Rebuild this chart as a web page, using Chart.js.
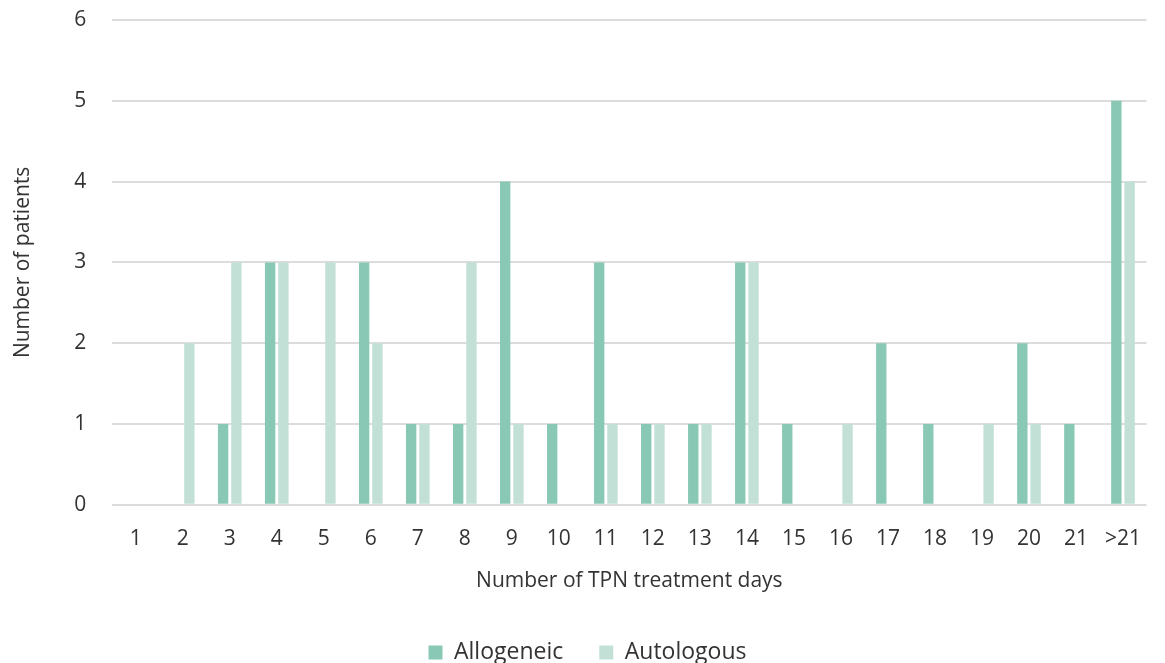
<!DOCTYPE html>
<html>
<head>
<meta charset="utf-8">
<script src="https://cdn.jsdelivr.net/npm/chart.js@4"></script>
<style>
  html, body { margin: 0; padding: 0; background: #fff; }
  #wrap { width: 1165px; height: 663px; }
</style>
</head>
<body>
<div id="wrap"><canvas id="c" width="1165" height="663"></canvas></div>
<script>
const categories = ['1', '2', '3', '4', '5', '6', '7', '8', '9', '10', '11', '12', '13', '14', '15', '16', '17', '18', '19', '20', '21', '>21'];
const allogeneic = [0, 0, 1, 3, 0, 3, 1, 1, 4, 1, 3, 1, 1, 3, 1, 0, 2, 1, 0, 2, 1, 5];
const autologous = [0, 2, 3, 3, 3, 2, 1, 3, 1, 0, 1, 1, 1, 3, 0, 1, 0, 0, 1, 1, 0, 4];
const yTicks = [0, 1, 2, 3, 4, 5, 6];

const font = "'Open Sans', 'Noto Sans', sans-serif";
const textColor = '#333333';

new Chart(document.getElementById('c'), {
  type: 'bar',
  data: {
    labels: categories,
    datasets: [
      { label: 'Allogeneic', data: allogeneic, backgroundColor: '#88c8b5' },
      { label: 'Autologous', data: autologous, backgroundColor: '#c2e0d6' },
    ],
  },
  options: {
    responsive: false,
    animation: false,
    categoryPercentage: 0.565,
    barPercentage: 0.78,
    layout: { padding: { top: 20, right: 0, left: 10, bottom: -11 } },
    plugins: {
      legend: {
        position: 'bottom',
        labels: {
          font: { family: font, size: 23 },
          color: textColor,
          boxWidth: 14,
          boxHeight: 14,
          padding: 36,
        },
      },
      tooltip: { enabled: false },
    },
    scales: {
      x: {
        grid: { display: false, drawTicks: false },
        border: { display: false },
        ticks: { font: { family: font, size: 21, lineHeight: 1.0 }, color: textColor, padding: 24, maxRotation: 0 },
        title: {
          display: true,
          text: 'Number of TPN treatment days',
          font: { family: font, size: 21 },
          color: textColor,
          padding: { top: 0, bottom: 11 },
        },
        // pull the tick labels a little closer to the axis title
        afterFit: axis => { axis.height -= 5; },
      },
      y: {
        min: 0,
        max: 6,
        afterBuildTicks: axis => { axis.ticks = yTicks.map(v => ({ value: v })); },
        // invisible tick marks give the label gap without adding top padding
        grid: { color: '#dcdcdc', lineWidth: 2, drawTicks: true, tickLength: 24, tickColor: 'rgba(0,0,0,0)' },
        border: { display: false },
        ticks: { font: { family: font, size: 21 }, color: textColor, padding: 2 },
        title: {
          display: true,
          text: 'Number of patients',
          font: { family: font, size: 21 },
          color: textColor,
          padding: { top: 0, bottom: 37 },
        },
      },
    },
  },
});
</script>
</body>
</html>
